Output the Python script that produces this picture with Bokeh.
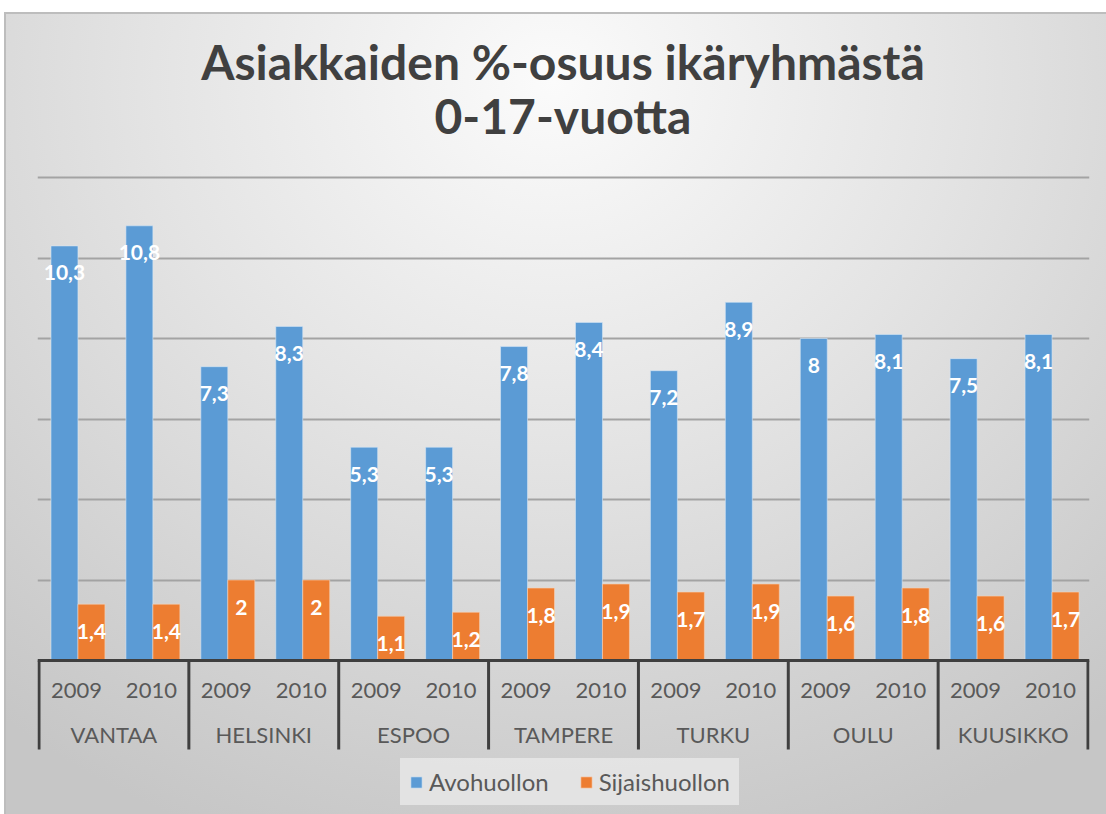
from bokeh.plotting import figure
from bokeh.models import FactorRange, FixedTicker, Span, Label, Legend, LegendItem, ColumnDataSource
from bokeh.transform import dodge
from bokeh.core.properties import value
from bokeh.embed import file_html
from bokeh.resources import INLINE

# ---------------- data ----------------
cities = ["VANTAA", "HELSINKI", "ESPOO", "TAMPERE", "TURKU", "OULU", "KUUSIKKO"]
years = ["2009", "2010"]
avohuollon = [10.3, 10.8, 7.3, 8.3, 5.3, 5.3, 7.8, 8.4, 7.2, 8.9, 8.0, 8.1, 7.5, 8.1]
sijaishuollon = [1.4, 1.4, 2.0, 2.0, 1.1, 1.2, 1.8, 1.9, 1.7, 1.9, 1.6, 1.8, 1.6, 1.7]
series_names = ["Avohuollon", "Sijaishuollon"]
grid_values = [2, 4, 6, 8, 10, 12]
title_lines = ["Asiakkaiden %-osuus ikäryhmästä", "0-17-vuotta"]

# ---------------- style / layout ----------------
W, H = 1106, 814
LEFT, RIGHT = 37, 17
PX_PER_UNIT = 40.25
ZERO_FROM_BOTTOM = 154          # pixels from figure bottom to value 0
FONT = "Lato"
BLUE, ORANGE = "#5b9bd5", "#ed7d31"
TEXT_GRAY = "#595959"

def fmt(v):
    return f"{v:g}".replace(".", ",")

factors = [(c, y) for c in cities for y in years]
source = ColumnDataSource(dict(
    x=factors,
    avo=avohuollon,
    sij=sijaishuollon,
    avo_lbl=[fmt(v) for v in avohuollon],
    sij_lbl=[fmt(v) for v in sijaishuollon],
    zero=[0] * len(factors),
    year=[f[1] for f in factors],
))

y_start = -ZERO_FROM_BOTTOM / PX_PER_UNIT
y_end = (H - ZERO_FROM_BOTTOM) / PX_PER_UNIT

p = figure(
    width=W, height=H,
    x_range=FactorRange(*factors, range_padding=0.04 / len(factors),
                        factor_padding=0, group_padding=0),
    y_range=(y_start, y_end),
    x_axis_location=None, y_axis_location=None,
    toolbar_location=None, output_backend="svg",
    min_border_left=LEFT, min_border_right=RIGHT,
    min_border_top=0, min_border_bottom=0,
)
p.outline_line_color = None
p.background_fill_alpha = 0
p.border_fill_alpha = 0
p.styles = {
    "background-image": (
        "linear-gradient(#ffffff,#ffffff), linear-gradient(#ffffff,#ffffff), "
        "linear-gradient(#bdbdbd,#bdbdbd), linear-gradient(#bdbdbd,#bdbdbd), "
        "radial-gradient(ellipse 80% 100% at 50% 10%, #fbfbfb 0%, #e4e4e4 45%, #cecece 85%, #c6c6c6 100%)"
    ),
    "background-size": "100% 12px, 4px 100%, 100% 2px, 2px 100%, 100% 100%",
    "background-position": "0 0, 0 0, 0 12px, 4px 0, 0 0",
    "background-repeat": "no-repeat",
}

p.xgrid.visible = False
p.ygrid.ticker = FixedTicker(ticks=grid_values)
p.ygrid.grid_line_color = "#a3a3a3"
p.ygrid.grid_line_width = 2

BAR_W = 0.36
r_avo = p.vbar(x=dodge("x", -0.16, range=p.x_range), top="avo", width=BAR_W, source=source,
               fill_color=BLUE, line_color="#d6e6f5", line_width=1, line_alpha=0.6)
r_sij = p.vbar(x=dodge("x", 0.20, range=p.x_range), top="sij", width=BAR_W, source=source,
               fill_color=ORANGE, line_color="#f6d2b8", line_width=1, line_alpha=0.6)

# value labels (inside end)
for off, col in [(-0.16, "avo"), (0.20, "sij")]:
    p.text(x=dodge("x", off, range=p.x_range), y=col, text=col + "_lbl", source=source,
           y_offset=27, text_align="center", text_baseline="middle",
           text_color="white", text_font=value(FONT), text_font_style="bold",
           text_font_size="21px")

# baseline
p.add_layout(Span(location=0, dimension="width", line_color="#3f3f3f", line_width=3))

# category axis: year labels, city labels, separators
p.text(x="x", y="zero", text="year", source=source, y_offset=30,
       text_align="center", text_baseline="middle", text_color=TEXT_GRAY,
       text_font=value(FONT), text_font_size="22px")
p.text(x=cities, y=[0] * len(cities), text=cities, y_offset=74,
       text_align="center", text_baseline="middle", text_color=TEXT_GRAY,
       text_font=value(FONT), text_font_size="22px")
bounds = [i * len(years) for i in range(len(cities) + 1)]
sep_depth = -89 / PX_PER_UNIT
p.segment(x0=bounds, y0=[0] * len(bounds), x1=bounds, y1=[sep_depth] * len(bounds),
          line_color="#3f3f3f", line_width=3)

# title
for txt, base_px in [(title_lines[0], 61), (title_lines[1], 115)]:
    p.add_layout(Label(x=562.5 - LEFT, y=H - base_px, x_units="screen", y_units="screen",
                       text=txt, text_align="center", text_baseline="alphabetic",
                       text_font=FONT, text_font_style="bold", text_font_size="48px",
                       text_color="#404040"))

# legend
legend = Legend(items=[LegendItem(label=series_names[0], renderers=[r_avo]),
                       LegendItem(label=series_names[1], renderers=[r_sij])],
                orientation="horizontal", location=(400 - LEFT, 9), margin=0,
                padding=9, spacing=30, label_standoff=6,
                glyph_width=14, glyph_height=14,
                label_text_font=FONT, label_text_font_size="24px", label_text_color=TEXT_GRAY,
                background_fill_color="#e6e6e6", background_fill_alpha=0.9,
                border_line_alpha=0)
p.add_layout(legend)

open("out.html", "w").write(file_html(p, INLINE))
